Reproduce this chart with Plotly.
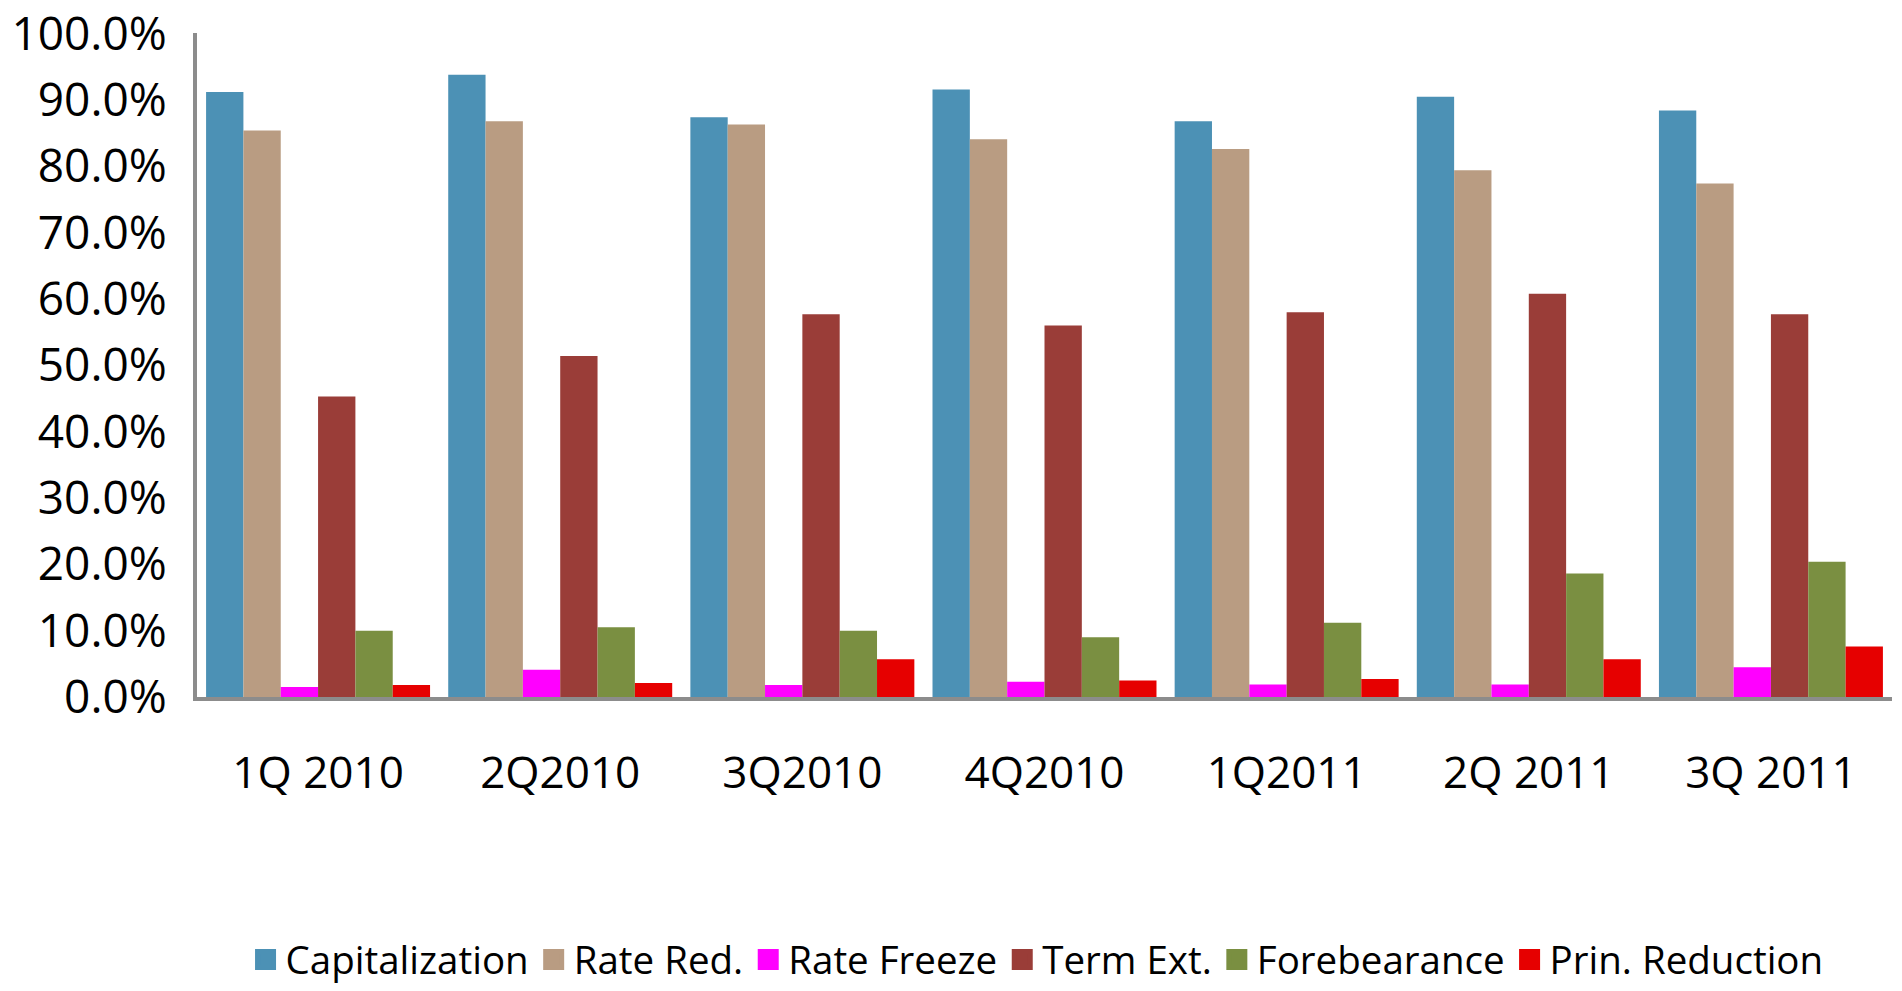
import plotly.graph_objects as go

# Loan modification types by quarter (share of modifications)
quarters = ["1Q 2010", "2Q2010", "3Q2010", "4Q2010", "1Q2011", "2Q 2011", "3Q 2011"]

capitalization = [0.912, 0.938, 0.874, 0.916, 0.868, 0.905, 0.884]
rate_red = [0.854, 0.868, 0.863, 0.841, 0.826, 0.794, 0.774]
rate_freeze = [0.015, 0.041, 0.018, 0.023, 0.019, 0.019, 0.045]
term_ext = [0.453, 0.514, 0.577, 0.560, 0.580, 0.608, 0.577]
forebearance = [0.100, 0.105, 0.100, 0.090, 0.112, 0.186, 0.204]
prin_reduction = [0.018, 0.021, 0.057, 0.025, 0.027, 0.057, 0.076]

y_ticks = [i / 10 for i in range(11)]

series = [
    ("Capitalization", capitalization, "#4C91B5"),
    ("Rate Red.", rate_red, "#B99C82"),
    ("Rate Freeze", rate_freeze, "#FF00FF"),
    ("Term Ext.", term_ext, "#9A3D38"),
    ("Forebearance", forebearance, "#7A8F41"),
    ("Prin. Reduction", prin_reduction, "#E60000"),
]

FONT = "Open Sans"

fig = go.Figure()
for name, vals, color in series:
    fig.add_trace(go.Bar(
        x=quarters, y=vals, name=name,
        marker=dict(color=color, line=dict(width=0)),
        showlegend=False,
    ))

# Legend entries with larger square swatches
for name, vals, color in series:
    fig.add_trace(go.Scatter(
        x=[None], y=[None], name=name, mode="markers",
        marker=dict(symbol="square", size=16, color=color,
                    line=dict(color=color, width=5)),
        showlegend=True, hoverinfo="skip",
    ))

fig.update_layout(
    width=1902, height=991,
    margin=dict(l=197, r=10, t=33, b=294, autoexpand=False),
    paper_bgcolor="white", plot_bgcolor="white",
    barmode="group", bargap=0.075, bargroupgap=0,
    font=dict(family=FONT, color="black"),
    legend=dict(
        orientation="h", x=0.4956, xanchor="center",
        y=-0.396, yanchor="middle",
        font=dict(family=FONT, size=38.5, color="black"),
        itemsizing="trace", tracegroupgap=0,
    ),
)

fig.update_xaxes(
    type="category",
    showline=True, linecolor="#8C8C8C", linewidth=4,
    showgrid=False, zeroline=False, ticks="",
    tickfont=dict(family=FONT, size=44, color="black"),
    ticklabelstandoff=34,
)
fig.update_yaxes(
    range=[0, 1.001], tickmode="array", tickvals=y_ticks, tickformat=".1%",
    showline=True, linecolor="#8C8C8C", linewidth=4,
    showgrid=False, zeroline=False, ticks="",
    tickfont=dict(family=FONT, size=46, color="black"),
    ticklabelstandoff=17, ticklabeloverflow="allow",
)

fig.write_html("out.html")
